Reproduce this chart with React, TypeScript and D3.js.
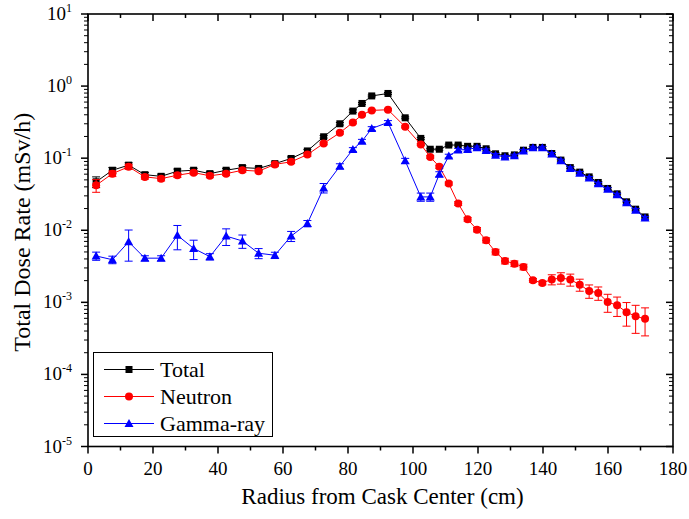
import React from "react";
import * as d3 from "d3";

const radius = [2.5, 7.5, 12.5, 17.5, 22.5, 27.5, 32.5, 37.5, 42.5, 47.5, 52.5, 57.5, 62.5, 67.5, 72.5, 77.5, 81.5, 84.3, 87.3, 92.3, 97.6, 102.4, 105.3, 108.1, 111.0, 113.9, 116.8, 119.7, 122.5, 125.4, 128.3, 131.2, 134.0, 136.9, 139.8, 142.7, 145.5, 148.4, 151.3, 154.2, 157.0, 159.9, 162.8, 165.7, 168.5, 171.4];

const total = [0.047, 0.068, 0.080, 0.059, 0.056, 0.066, 0.068, 0.061, 0.068, 0.074, 0.072, 0.084, 0.099, 0.126, 0.198, 0.30, 0.45, 0.574, 0.73, 0.79, 0.363, 0.188, 0.133, 0.133, 0.152, 0.152, 0.146, 0.146, 0.135, 0.115, 0.108, 0.111, 0.129, 0.141, 0.141, 0.116, 0.094, 0.074, 0.064, 0.055, 0.046, 0.038, 0.032, 0.0248, 0.0196, 0.0153];

const neutron = [0.042, 0.061, 0.076, 0.055, 0.052, 0.058, 0.063, 0.057, 0.061, 0.068, 0.066, 0.082, 0.089, 0.112, 0.16, 0.225, 0.313, 0.40, 0.46, 0.47, 0.272, 0.155, 0.104, 0.076, 0.0445, 0.0235, 0.0142, 0.0102, 0.00726, 0.0050, 0.00375, 0.00344, 0.0031, 0.00202, 0.00186, 0.00208, 0.00218, 0.00207, 0.00176, 0.00144, 0.00135, 0.00101, 0.00091, 0.00073, 0.00064, 0.00059];

const gamma = [0.0044, 0.0039, 0.0069, 0.0041, 0.0041, 0.0085, 0.0056, 0.0043, 0.0083, 0.0071, 0.0048, 0.0045, 0.0083, 0.0124, 0.0387, 0.0774, 0.132, 0.172, 0.258, 0.313, 0.092, 0.029, 0.029, 0.060, 0.107, 0.130, 0.132, 0.140, 0.128, 0.110, 0.104, 0.108, 0.126, 0.139, 0.139, 0.114, 0.092, 0.072, 0.062, 0.053, 0.044, 0.037, 0.031, 0.0240, 0.0190, 0.0148];

// relative uncertainties (fraction of value)
const totalErr = [0.17, 0.09, 0.08, 0.07, 0.07, 0.07, 0.06, 0.06, 0.06, 0.06, 0.05, 0.05, 0.05, 0.05, 0.04, 0.04, 0.04, 0.03, 0.03, 0.03, 0.03, 0.03, 0.03, 0.03, 0.03, 0.03, 0.03, 0.03, 0.03, 0.03, 0.03, 0.03, 0.03, 0.03, 0.03, 0.03, 0.03, 0.03, 0.03, 0.03, 0.03, 0.03, 0.03, 0.03, 0.03, 0.03];
const neutronErr = [0.2, 0.09, 0.08, 0.07, 0.07, 0.07, 0.06, 0.06, 0.06, 0.06, 0.05, 0.05, 0.05, 0.05, 0.04, 0.04, 0.04, 0.03, 0.03, 0.03, 0.03, 0.03, 0.04, 0.05, 0.05, 0.06, 0.06, 0.07, 0.08, 0.09, 0.09, 0.09, 0.09, 0.06, 0.06, 0.16, 0.18, 0.19, 0.19, 0.21, 0.21, 0.28, 0.30, 0.36, 0.42, 0.42];
const gammaErr = [0.13, 0.12, 0.46, 0.08, 0.08, 0.37, 0.30, 0.10, 0.26, 0.21, 0.16, 0.10, 0.16, 0.10, 0.15, 0.08, 0.06, 0.06, 0.06, 0.06, 0.08, 0.13, 0.13, 0.08, 0.06, 0.05, 0.05, 0.05, 0.05, 0.05, 0.05, 0.05, 0.05, 0.05, 0.05, 0.05, 0.05, 0.05, 0.05, 0.05, 0.05, 0.05, 0.05, 0.05, 0.05, 0.05];

const xMajorTicks = [0, 20, 40, 60, 80, 100, 120, 140, 160, 180];
const xMinorTicks = [10, 30, 50, 70, 90, 110, 130, 150, 170];
const yExponents = [-5, -4, -3, -2, -1, 0, 1];
const seriesNames = ["Total", "Neutron", "Gamma-ray"];
const seriesColors = ["#000000", "#ff0000", "#0000ff"];

const FONT = "Liberation Serif, DejaVu Serif, serif";
const txt = { fontFamily: FONT } as React.CSSProperties;

function Marker({ kind, cx, cy, color }: { kind: number; cx: number; cy: number; color: string }) {
  if (kind === 0) return <rect x={cx - 3.5} y={cy - 3.5} width={7} height={7} fill={color} />;
  if (kind === 1) return <circle cx={cx} cy={cy} r={4} fill={color} />;
  return <path d={`M${cx},${cy - 4.5}L${cx + 4.5},${cy + 3.5}L${cx - 4.5},${cy + 3.5}Z`} fill={color} />;
}

export default function App() {
  const W = 689, H = 519;
  const L = 88, R = 673, T = 14, B = 446.5;
  const x = d3.scaleLinear().domain([0, 180]).range([L, R]);
  const y = d3.scaleLog().domain([1e-5, 10]).range([B, T]);

  const series = [total, neutron, gamma];
  const errs = [totalErr, neutronErr, gammaErr];

  const line = d3.line<[number, number]>().x((d) => x(d[0])).y((d) => y(d[1]));

  const minorY: number[] = [];
  for (let e = -5; e < 1; e++) for (let k = 2; k <= 9; k++) minorY.push(k * Math.pow(10, e));

  return (
    <svg width={W} height={H} style={{ position: "absolute", left: 0, top: 0, background: "#fff", fontFamily: FONT }}>
      <rect x={0} y={0} width={W} height={H} fill="#fff" />
      {series.map((vals, si) => {
        const color = seriesColors[si];
        const pts = radius.map((r, i) => [r, vals[i]] as [number, number]);
        return (
          <g key={si}>
            <path d={line(pts) || ""} fill="none" stroke={color} strokeWidth={1} />
            {pts.map(([r, v], i) => {
              const e = v * errs[si][i];
              const y1 = y(v + e), y2 = y(Math.max(v - e, 1e-6));
              const cx = x(r);
              return (
                <g key={i} stroke={color} strokeWidth={1}>
                  <line x1={cx} x2={cx} y1={y1} y2={y2} />
                  <line x1={cx - 4} x2={cx + 4} y1={y1} y2={y1} />
                  <line x1={cx - 4} x2={cx + 4} y1={y2} y2={y2} />
                </g>
              );
            })}
            {pts.map(([r, v], i) => (
              <Marker key={"m" + i} kind={si} cx={x(r)} cy={y(v)} color={color} />
            ))}
          </g>
        );
      })}

      <rect x={L} y={T} width={R - L} height={B - T} fill="none" stroke="#000" strokeWidth={1.6} />

      {xMajorTicks.map((t) => (
        <g key={"xM" + t}>
          <line x1={x(t)} x2={x(t)} y1={B} y2={B + 7} stroke="#000" strokeWidth={1.5} />
          <line x1={x(t)} x2={x(t)} y1={T} y2={T + 7} stroke="#000" strokeWidth={1.5} />
          <text x={x(t)} y={B + 28} textAnchor="middle" fontSize={19} style={txt}>{t}</text>
        </g>
      ))}
      {xMinorTicks.map((t) => (
        <g key={"xm" + t}>
          <line x1={x(t)} x2={x(t)} y1={B} y2={B + 4} stroke="#000" strokeWidth={1.5} />
          <line x1={x(t)} x2={x(t)} y1={T} y2={T + 4} stroke="#000" strokeWidth={1.5} />
        </g>
      ))}

      {yExponents.map((e) => {
        const v = Math.pow(10, e);
        return (
          <g key={"yM" + e}>
            <line x1={L - 7} x2={L} y1={y(v)} y2={y(v)} stroke="#000" strokeWidth={1.5} />
            <line x1={R - 7} x2={R} y1={y(v)} y2={y(v)} stroke="#000" strokeWidth={1.5} />
            <text x={72} y={y(v) + 6} textAnchor="end" fontSize={19} style={txt}>
              10<tspan dy={-8} fontSize={12}>{e}</tspan>
            </text>
          </g>
        );
      })}
      {minorY.map((v, i) => (
        <g key={"ym" + i}>
          <line x1={L - 4} x2={L} y1={y(v)} y2={y(v)} stroke="#000" strokeWidth={1} />
          <line x1={R - 4} x2={R} y1={y(v)} y2={y(v)} stroke="#000" strokeWidth={1} />
        </g>
      ))}

      <text x={(L + R) / 2 + 2} y={504} textAnchor="middle" fontSize={23} style={txt}>Radius from Cask Center (cm)</text>
      <text transform={`translate(30, ${(T + B) / 2 + 2}) rotate(-90)`} textAnchor="middle" fontSize={24} style={txt}>Total Dose Rate (mSv/h)</text>

      <rect x={93.5} y={352.5} width={179} height={84} fill="#fff" stroke="#000" strokeWidth={1} />
      {seriesNames.map((name, i) => {
        const ly = 369.5 + i * 27;
        return (
          <g key={name}>
            <line x1={104} x2={154} y1={ly} y2={ly} stroke={seriesColors[i]} strokeWidth={1} />
            <Marker kind={i} cx={129} cy={ly} color={seriesColors[i]} />
            <text x={160} y={ly + 7} fontSize={22} style={txt}>{name}</text>
          </g>
        );
      })}
    </svg>
  );
}
